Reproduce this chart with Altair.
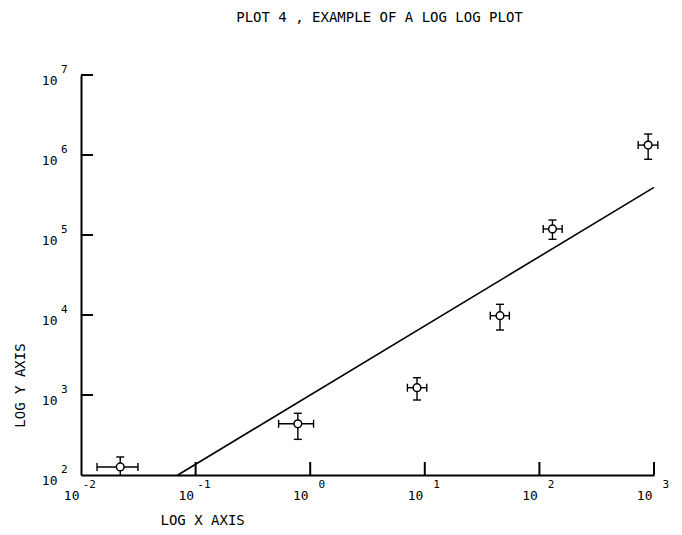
import altair as alt
import pandas as pd

# ---- data ----
px = [0.022, 0.78, 8.55, 45.3, 130, 889]
px_lo = [0.0138, 0.53, 7.05, 37.3, 108, 728]
px_hi = [0.0314, 1.07, 10.4, 54.7, 158, 1080]
py = [126, 437, 1233, 9800, 119000, 1330000]
py_lo = [90, 279, 866, 6490, 88300, 884000]
py_hi = [168, 591, 1645, 13600, 154000, 1830000]

fit_x = [0.07, 1000]
fit_y = [100, 394000]

x_tick_vals = [0.1, 1, 10, 100, 1000]
x_label_vals = [0.01, 0.1, 1, 10, 100, 1000]
x_exps = ["-2", "-1", "0", "1", "2", "3"]
y_tick_vals = [1e3, 1e4, 1e5, 1e6, 1e7]
y_label_vals = [1e2, 1e3, 1e4, 1e5, 1e6, 1e7]
y_exps = ["2", "3", "4", "5", "6", "7"]

W, H = 573, 400
FONT = "DejaVu Sans Mono"

pts = pd.DataFrame({"x": px, "xlo": px_lo, "xhi": px_hi,
                    "y": py, "ylo": py_lo, "yhi": py_hi})
fit = pd.DataFrame({"x": fit_x, "y": fit_y})
xt = pd.DataFrame({"v": x_tick_vals})
yt = pd.DataFrame({"v": y_tick_vals})
xl = pd.DataFrame({"v": x_label_vals, "e": x_exps})
yl = pd.DataFrame({"v": y_label_vals, "e": y_exps})

xs = alt.Scale(type="log", domain=[0.01, 1000], nice=False)
ys = alt.Scale(type="log", domain=[100, 1e7], nice=False)

xaxis = alt.Axis(values=x_label_vals, labelExpr="'10'", title="LOG X AXIS",
                 labelAlign="right", labelOffset=-2, labelBaseline="top",
                 labelPadding=14, titleX=79, titleY=45, titleAlign="left",
                 titleBaseline="middle", titleAnchor="start")
yaxis = alt.Axis(values=y_label_vals, labelExpr="'10'", title="LOG Y AXIS",
                 labelOffset=5, labelPadding=24, labelAlign="right",
                 titleX=-61, titleY=310, titleAngle=270, titleAlign="center",
                 titleBaseline="middle", titleAnchor="middle")

base = alt.Chart(pts)

fitline = alt.Chart(fit).mark_line(color="black", strokeWidth=1.6).encode(
    x=alt.X("x:Q", scale=xs, axis=xaxis),
    y=alt.Y("y:Q", scale=ys, axis=yaxis),
)

hbar = base.mark_rule(color="black", strokeWidth=1.4).encode(
    x=alt.X("xlo:Q", scale=xs), x2="xhi:Q", y=alt.Y("y:Q", scale=ys))
vbar = base.mark_rule(color="black", strokeWidth=1.4, clip=True).encode(
    x=alt.X("x:Q", scale=xs), y=alt.Y("ylo:Q", scale=ys), y2="yhi:Q")

vcap_shape = "M0,-1L0,1"
hcap_shape = "M-1,0L1,0"
hcap_lo = base.mark_point(shape=vcap_shape, size=64, color="black", strokeWidth=1.4,
                          filled=False, opacity=1).encode(
    x=alt.X("xlo:Q", scale=xs), y=alt.Y("y:Q", scale=ys))
hcap_hi = base.mark_point(shape=vcap_shape, size=64, color="black", strokeWidth=1.4,
                          filled=False, opacity=1).encode(
    x=alt.X("xhi:Q", scale=xs), y=alt.Y("y:Q", scale=ys))
vcap_lo = base.mark_point(shape=hcap_shape, size=64, color="black", strokeWidth=1.4,
                          filled=False, opacity=1, clip=True).encode(
    x=alt.X("x:Q", scale=xs), y=alt.Y("ylo:Q", scale=ys))
vcap_hi = base.mark_point(shape=hcap_shape, size=64, color="black", strokeWidth=1.4,
                          filled=False, opacity=1, clip=True).encode(
    x=alt.X("x:Q", scale=xs), y=alt.Y("yhi:Q", scale=ys))

circles = base.mark_point(shape="circle", size=60, fill="white", stroke="black",
                          strokeWidth=1.5, filled=False, fillOpacity=1, opacity=1).encode(
    x=alt.X("x:Q", scale=xs), y=alt.Y("y:Q", scale=ys))

xticks = alt.Chart(xt).mark_rule(color="black", strokeWidth=2).encode(
    x=alt.X("v:Q", scale=xs), y=alt.value(H), y2=alt.value(H - 13))
yticks = alt.Chart(yt).mark_rule(color="black", strokeWidth=2).encode(
    y=alt.Y("v:Q", scale=ys), x=alt.value(0), x2=alt.value(12))

xexp = alt.Chart(xl).mark_text(font=FONT, fontSize=11, align="right",
                               baseline="middle", dx=15, color="black").encode(
    x=alt.X("v:Q", scale=xs), y=alt.value(H + 10), text="e:N")
yexp = alt.Chart(yl).mark_text(font=FONT, fontSize=11, align="left",
                               baseline="middle", dy=-5, color="black").encode(
    y=alt.Y("v:Q", scale=ys), x=alt.value(-20), text="e:N")

chart = alt.layer(
    fitline, hbar, vbar, hcap_lo, hcap_hi, vcap_lo, vcap_hi, circles,
    xticks, yticks, xexp, yexp
).properties(
    width=W, height=H,
    title=alt.TitleParams("PLOT 4 , EXAMPLE OF A LOG LOG PLOT", font=FONT,
                          fontSize=14, fontWeight="normal", color="black",
                          anchor="middle", dx=12, offset=39),
    padding={"left": 73, "top": 67, "right": 20, "bottom": 52},
    autosize=alt.AutoSizeParams(type="none"),
).configure_view(stroke=None).configure_axis(
    domainColor="black", domainWidth=2, grid=False, ticks=False,
    labelFont=FONT, labelFontSize=13, labelColor="black",
    titleFont=FONT, titleFontSize=14, titleFontWeight="normal", titleColor="black",
)

chart.save("out.html", embed_options={"renderer": "svg", "actions": False})
